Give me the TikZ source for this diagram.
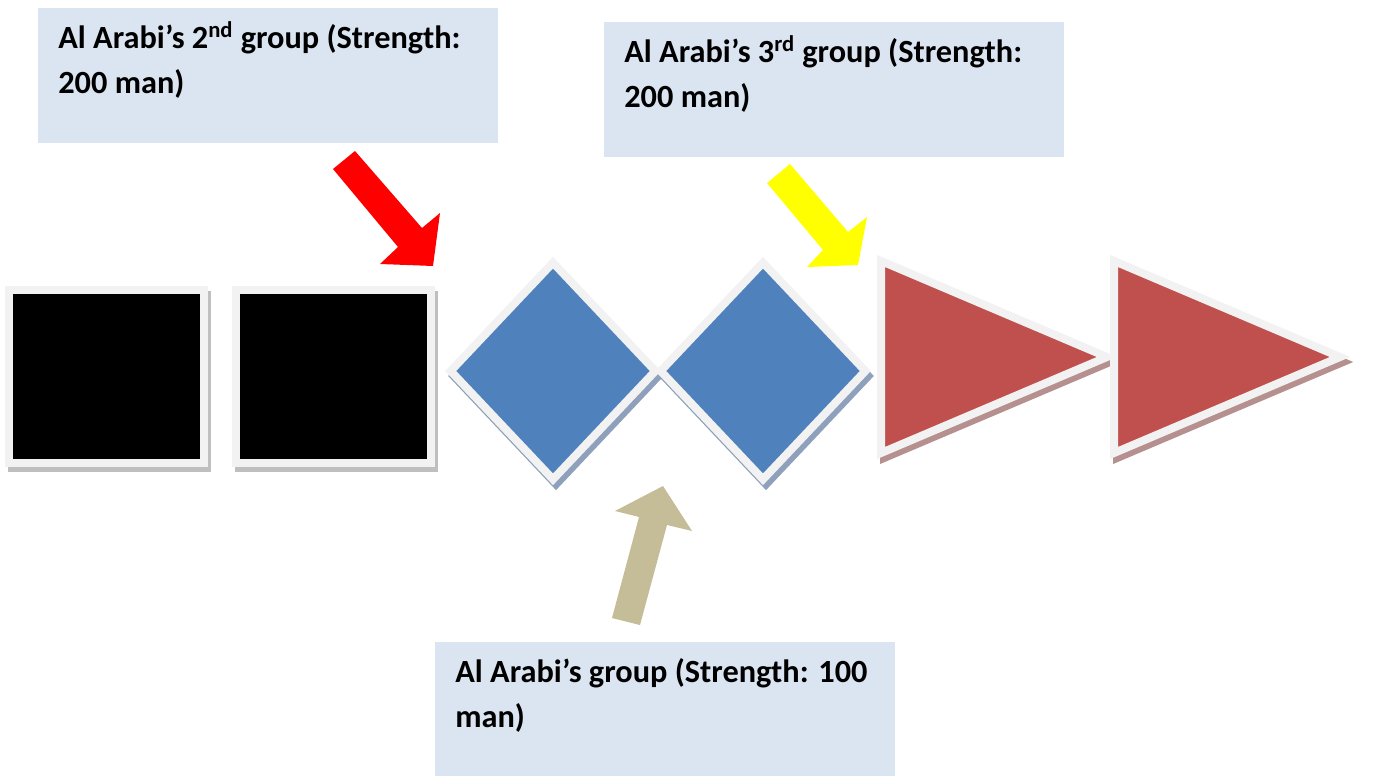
\documentclass[tikz,border=0pt]{standalone}
\usepackage{fontspec}
\setmainfont{Carlito}
\usetikzlibrary{shapes.geometric}
\definecolor{paleblue}{HTML}{DBE5F1}
\definecolor{framegray}{HTML}{F2F2F2}
\definecolor{sqshadow}{HTML}{BFBFBF}
\definecolor{steelblue}{HTML}{4F81BD}
\definecolor{dmshadow}{HTML}{8EA0BC}
\definecolor{brickred}{HTML}{C0504D}
\definecolor{trshadow}{HTML}{B5908F}
\definecolor{khaki}{HTML}{C4BD97}
\definecolor{brightyellow}{HTML}{FFFF00}
\newcommand{\grouptext}[2]{\parbox[t][2.7cm][t]{8.4cm}{\rule{0pt}{0.8cm}\mbox{#1}\\\mbox{#2}}}

\begin{document}
\begin{tikzpicture}[
  x=0.02cm, y=-0.02cm,
  groupbox/.style={fill=paleblue, anchor=north west, inner sep=0pt, minimum width=9.2cm, minimum height=2.7cm, font=\fontsize{18.4}{25.6}\selectfont\bfseries},
  shadowed/.style={preaction={fill=#1, draw=#1, line width=0.16cm, transform canvas={xshift=0.06cm, yshift=-0.1cm}}},
  blackbox/.style={rectangle, fill=black, draw=framegray, line width=0.16cm, minimum width=3.9cm, minimum height=3.46cm, inner sep=0pt, shadowed=sqshadow},
  bluediamond/.style={diamond, fill=steelblue, draw=framegray, line width=0.16cm, minimum width=4.16cm, minimum height=4.4cm, inner sep=0pt, shadowed=dmshadow},
  redtri/.style={fill=brickred, draw=framegray, line width=0.16cm, shadowed=trshadow}
]
\useasboundingbox (0,0) rectangle (1392,776);

\node[groupbox] (grp2) at (38,8) {\grouptext{Al Arabi’s 2\textsuperscript{nd} group (Strength:}{200 man)}};
\node[groupbox] (grp3) at (604,22) {\grouptext{Al Arabi’s 3\textsuperscript{rd} group (Strength:}{200 man)}};
\node[groupbox] (grp1) at (435,642) {\grouptext{Al Arabi’s group (Strength: 100}{man)}};

\node[blackbox] (sq1) at (106.5,376.5) {};
\node[blackbox] (sq2) at (333.5,376.5) {};

\node[bluediamond] (dm1) at (553,371) {};
\node[bluediamond] (dm2) at (763,371) {};

\draw[redtri] (881,261) -- (881,453) -- (1107,357) -- cycle;
\draw[redtri] (1114,261) -- (1114,453) -- (1340,357) -- cycle;

\fill[red] (333,169) -- (355,151) -- (422,228) -- (440,213) -- (433,266) -- (380,264) -- (398,247) -- cycle;
\fill[brightyellow] (767,183) -- (790,164) -- (848,232) -- (867,217) -- (858,265) -- (807,267) -- (823,250) -- cycle;
\fill[khaki] (612,618) -- (640,625) -- (667,525) -- (692,531) -- (663,486) -- (615,511) -- (639,517) -- cycle;
\end{tikzpicture}
\end{document}
